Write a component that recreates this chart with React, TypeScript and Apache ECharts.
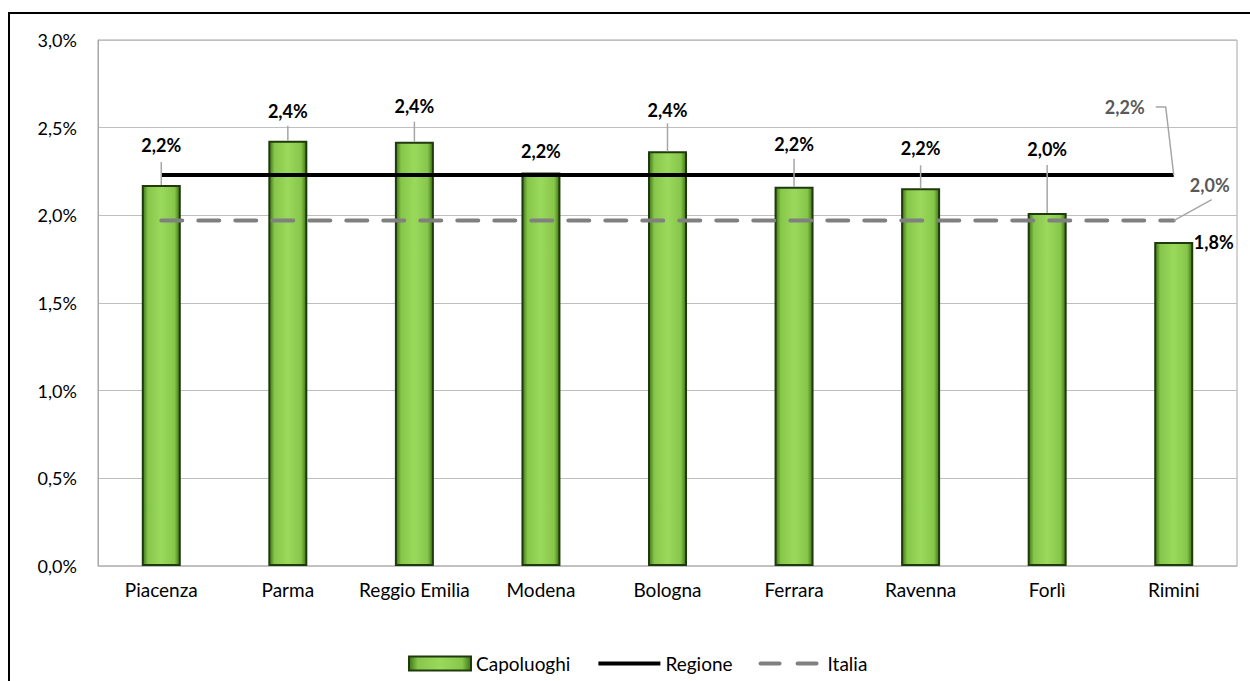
import React, { useEffect, useRef } from "react";
import * as echarts from "echarts";

const categories = ["Piacenza", "Parma", "Reggio Emilia", "Modena", "Bologna", "Ferrara", "Ravenna", "Forlì", "Rimini"];
const capoluoghi = [2.173, 2.425, 2.42, 2.245, 2.365, 2.163, 2.154, 2.013, 1.848];
const regioneValue = 2.23;
const italiaValue = 1.97;
const yTicks = [0, 0.5, 1, 1.5, 2, 2.5, 3];

// label placement: [dx, dy above bar top, leader length]
const labelPlacement: number[][] = [
  [0, 40, 23], [0, 30, 15], [0, 36, 20], [0, 21, 0], [0, 41, 28],
  [0, 43, 28], [0, 40, 23], [0, 64, 48], [40, 0, 0],
];

const FONT = "Lato";
const fmt = (v: number) => v.toFixed(1).replace(".", ",") + "%";

export default function App() {
  const ref = useRef<HTMLDivElement>(null);
  useEffect(() => {
    document.body.style.margin = "0";
    document.body.style.overflow = "hidden";
    const chart = echarts.init(ref.current!, undefined, { renderer: "svg" });
    const barGrad = new echarts.graphic.LinearGradient(0, 0, 1, 0, [
      { offset: 0, color: "#3f7416" },
      { offset: 0.14, color: "#86c64a" },
      { offset: 0.5, color: "#9ad95c" },
      { offset: 0.86, color: "#86c64a" },
      { offset: 1, color: "#3f7416" },
    ]);
    const lastIdx = categories.length - 1;
    chart.setOption({
      animation: false,
      textStyle: { fontFamily: FONT },
      graphic: [
        {
          type: "rect",
          shape: { x: 9, y: 13, width: 1400, height: 800 },
          style: { fill: "none", stroke: "#000", lineWidth: 2 },
          z: -10,
          silent: true,
        },
      ],
      grid: { left: 98, right: 13, top: 40, bottom: 115, show: true, borderColor: "#a6a6a6", borderWidth: 1 },
      legend: {
        left: 403,
        top: 649,
        itemWidth: 62,
        itemHeight: 14,
        itemGap: 26,
        textStyle: { fontFamily: FONT, fontSize: 19, color: "#000" },
        data: [
          { name: "Capoluoghi", icon: "rect" },
          { name: "Regione", itemStyle: { opacity: 0 }, lineStyle: { width: 4, color: "#000" } },
          { name: "Italia", itemStyle: { opacity: 0 }, lineStyle: { width: 4, color: "#808080", type: [19, 18], cap: "round" } },
        ],
      },
      xAxis: {
        type: "category",
        data: categories,
        axisTick: { show: false },
        axisLine: { lineStyle: { color: "#bfbfbf", width: 1.5 } },
        axisLabel: { color: "#000", fontSize: 19, fontFamily: FONT, margin: 14, interval: 0 },
      },
      yAxis: {
        type: "value",
        min: yTicks[0],
        max: yTicks[yTicks.length - 1],
        interval: 0.5,
        axisLine: { show: true, lineStyle: { color: "#a6a6a6" } },
        axisTick: { show: false },
        splitLine: { lineStyle: { color: "#bfbfbf", width: 1 } },
        axisLabel: { color: "#000", fontSize: 18, fontFamily: FONT, margin: 21, formatter: (v: number) => fmt(v) },
      },
      series: [
        {
          name: "Capoluoghi",
          type: "bar",
          data: capoluoghi,
          barWidth: 39,
          itemStyle: { color: barGrad, borderColor: "#1f3a0c", borderWidth: 2 },
          z: 2,
        },
        {
          name: "Regione",
          type: "line",
          data: categories.map(() => regioneValue),
          symbol: "none",
          lineStyle: { color: "#000", width: 4 },
          itemStyle: { color: "#000" },
          z: 3,
        },
        {
          name: "Italia",
          type: "line",
          data: categories.map(() => italiaValue),
          symbol: "none",
          lineStyle: { color: "#808080", width: 4, type: [21, 16], cap: "round" },
          itemStyle: { color: "#808080" },
          z: 3,
        },
        {
          type: "custom",
          coordinateSystem: "cartesian2d",
          data: capoluoghi.map((v, i) => [i, v]),
          z: 5,
          silent: true,
          renderItem: (params: any, api: any) => {
            const i = api.value(0);
            const v = api.value(1);
            const pt = api.coord([i, v]);
            const [dx, dy, len] = labelPlacement[params.dataIndex];
            const children: any[] = [];
            if (len > 0) {
              children.push({
                type: "line",
                shape: { x1: pt[0], y1: pt[1], x2: pt[0], y2: pt[1] - len },
                style: { stroke: "#a6a6a6", lineWidth: 1.5 },
              });
            }
            children.push({
              type: "text",
              x: pt[0] + dx,
              y: pt[1] - dy,
              style: {
                text: fmt(v),
                fontFamily: FONT,
                fontSize: 18,
                fontWeight: "bold",
                fill: "#000",
                align: "center",
                verticalAlign: "middle",
              },
            });
            return { type: "group", children };
          },
        },
        {
          type: "custom",
          coordinateSystem: "cartesian2d",
          data: [[lastIdx, regioneValue, 0], [lastIdx, italiaValue, 1]],
          z: 5,
          silent: true,
          renderItem: (params: any, api: any) => {
            const i = api.value(0);
            const v = api.value(1);
            const pt = api.coord([i, v]);
            const children: any[] = [];
            if (params.dataIndex === 0) {
              const ty = pt[1] - 68;
              children.push({
                type: "polyline",
                shape: { points: [[pt[0] - 18, ty], [pt[0] - 8, ty], [pt[0], pt[1]]] },
                style: { stroke: "#a6a6a6", lineWidth: 1.5, fill: "none" },
              });
              children.push({
                type: "text",
                x: pt[0] - 49,
                y: ty,
                style: { text: fmt(v), fontFamily: FONT, fontSize: 18, fontWeight: "bold", fill: "#595959", align: "center", verticalAlign: "middle" },
              });
            } else {
              children.push({
                type: "line",
                shape: { x1: pt[0], y1: pt[1], x2: pt[0] + 38, y2: pt[1] - 21 },
                style: { stroke: "#a6a6a6", lineWidth: 1.5 },
              });
              children.push({
                type: "text",
                x: pt[0] + 36,
                y: pt[1] - 36,
                style: { text: fmt(v), fontFamily: FONT, fontSize: 18, fontWeight: "bold", fill: "#595959", align: "center", verticalAlign: "middle" },
              });
            }
            return { type: "group", children };
          },
        },
      ],
    });
    return () => chart.dispose();
  }, []);
  return <div ref={ref} style={{ width: 1250, height: 681 }} />;
}
